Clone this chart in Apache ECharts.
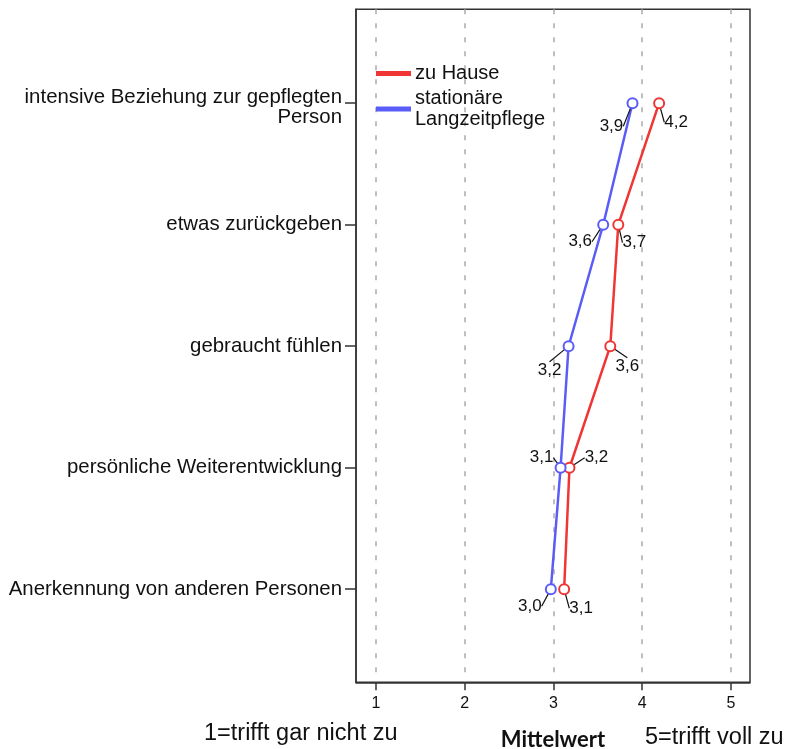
<!DOCTYPE html>
<html>
<head>
<meta charset="utf-8">
<script src="https://cdn.jsdelivr.net/npm/echarts@6/dist/echarts.min.js"></script>
<style>
html,body{margin:0;padding:0;background:#fff;}
#chart{width:790px;height:749px;}
</style>
</head>
<body>
<div id="chart"></div>
<script>
// ---- data ----
const categories = [
  'intensive Beziehung zur gepflegten\nPerson',
  'etwas zurückgeben',
  'gebraucht fühlen',
  'persönliche Weiterentwicklung',
  'Anerkennung von anderen Personen'
];
const seriesNames = ['zu Hause', 'stationäre\nLangzeitpflege'];
const zuHause = [4.19, 3.73, 3.64, 3.18, 3.12];
const stationaer = [3.89, 3.56, 3.17, 3.08, 2.97];
const xTicks = [1, 2, 3, 4, 5];
const xTitle = 'Mittelwert';
const leftNote = '1=trifft gar nicht zu';
const rightNote = '5=trifft voll zu';

// ---- label placement (style) ----
const labelOffsets = [
  [[17, 19], [16, 18], [17, 20], [27, -10], [17, 19]],
  [[-21, 23], [-23, 17], [-19, 24], [-19, -10], [-21, 17]]
];

const chart = echarts.init(document.getElementById('chart'));
const FONT = '"Liberation Sans", Arial, sans-serif';

function makeSeries(name, values, color, idx) {
  return {
    name: name,
    type: 'line',
    data: values.map((v, i) => [v, i + 1]),
    symbol: 'emptyCircle',
    symbolSize: 10,
    color: color,
    lineStyle: { color: color, width: 2.5 },
    itemStyle: { color: color, borderColor: color, borderWidth: 1.5 },
    label: {
      show: true,
      position: 'inside',
      fontFamily: FONT,
      fontSize: 17,
      color: '#111',
      formatter: p => p.value[0].toFixed(1).replace('.', ',')
    },
    labelLine: { show: true, lineStyle: { color: '#111', width: 1.2 } },
    labelLayout: p => ({ dx: labelOffsets[idx][p.dataIndex][0], dy: labelOffsets[idx][p.dataIndex][1] }),
    z: 3
  };
}

function catLabel(v) {
  const c = categories[Math.round(v) - 1];
  if (!c) return '';
  const parts = c.split('\n');
  if (parts.length > 1) {
    return '{s| }\n' + parts.map(p => '{n|' + p + '}').join('\n');
  }
  return '{n|' + c + '}';
}

chart.setOption({
  animation: false,
  backgroundColor: '#fff',
  grid: {
    left: 356, right: 40, top: 9.3, bottom: 66.7,
    show: true, borderColor: '#333', borderWidth: 1.5,
    containLabel: false, outerBoundsMode: 'none'
  },
  legend: {
    orient: 'vertical',
    left: 371, top: 58,
    itemWidth: 33, itemHeight: 3,
    itemGap: 4,
    icon: 'rect',
    textStyle: { fontFamily: FONT, fontSize: 20, lineHeight: 21, color: '#111' },
    data: seriesNames
  },
  xAxis: {
    type: 'value',
    min: 0.775, max: 5.214,
    name: xTitle,
    nameLocation: 'middle',
    nameGap: 47,
    nameTextStyle: { fontFamily: 'Lato, "Open Sans", sans-serif', fontWeight: 'bold', fontSize: 22, color: '#111' },
    axisLine: { show: true, lineStyle: { color: '#333', width: 1.5 } },
    axisTick: { show: true, customValues: xTicks, length: 8, lineStyle: { color: '#333', width: 1.5 } },
    axisLabel: { customValues: xTicks, fontFamily: FONT, fontSize: 16, color: '#111', margin: 13 },
    splitLine: {
      show: true,
      lineStyle: { color: '#aaa', width: 1.5, type: [5, 9] }
    }
  },
  yAxis: {
    type: 'value',
    inverse: true,
    min: 0.227, max: 5.766,
    axisLine: { show: true, lineStyle: { color: '#333', width: 1.5 } },
    axisTick: { show: true, customValues: xTicks, length: 11, lineStyle: { color: '#333', width: 1.5 } },
    axisLabel: {
      customValues: xTicks,
      margin: 14, align: 'right',
      formatter: catLabel,
      rich: {
        n: { fontFamily: FONT, fontSize: 20.4, lineHeight: 20, color: '#111', align: 'right' },
        s: { fontSize: 1, lineHeight: 8 }
      }
    },
    splitLine: { show: false }
  },
  graphic: [
    { type: 'text', left: 204, top: 722, style: { text: leftNote, font: '23.5px ' + FONT, fill: '#111' } },
    { type: 'text', left: 645, top: 726, style: { text: rightNote, font: '23.5px ' + FONT, fill: '#111' } }
  ],
  series: [
    makeSeries(seriesNames[0], zuHause, '#f03535', 0),
    makeSeries(seriesNames[1], stationaer, '#5a5cf8', 1)
  ]
});
</script>
</body>
</html>
